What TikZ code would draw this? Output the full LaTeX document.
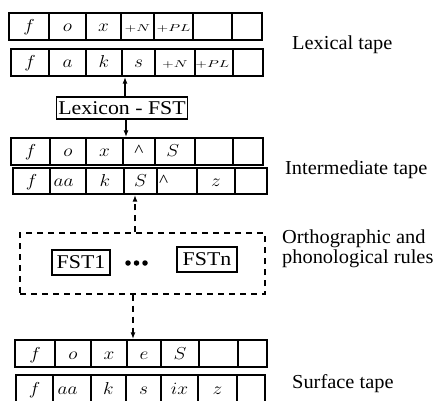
\documentclass[tikz,border=0pt]{standalone}
\usepackage{fontspec}
\setmainfont{Liberation Serif}
\usepackage{graphicx}
\usetikzlibrary{arrows.meta}
\newcommand\wide[1]{\scalebox{1.12}[1]{#1}}
\newcommand\lwide[1]{\scalebox{1.03}[1]{#1}}
\newcommand\tpsm[1]{\scalebox{1.35}[1]{\fontsize{10}{11}\selectfont$#1$}}
\newcommand\tapeRow[4]{%
  \foreach \xl/\xr/\ct [count=\i] in {#4} {
    \node[cell, minimum width={(\xr-\xl)*1pt}, minimum height={(#3-#2)*1pt}]
      (#1c\i) at ({(\xl+\xr)/2},{(#2+#3)/2}) {\wide{\ct}};
  }}
\begin{document}
\begin{tikzpicture}[x=1pt,y=-1pt,
  cell/.style={draw, line width=1.4pt, inner sep=0pt, text height=13pt, text depth=2pt,
    font=\fontsize{17.28}{19}\selectfont},
  boxed/.style={draw, line width=1.3pt, inner sep=1pt, font=\fontsize{19.5}{21}\selectfont},
  lbl/.style={inner sep=0pt, font=\fontsize{19.8}{18}\selectfont, anchor=base west, align=left},
  arr/.style={-{Latex[length=7pt,width=5pt]}, line width=1.4pt},
  darr/.style={-{Latex[length=7pt,width=5pt]}, line width=1.4pt, dash pattern=on 6pt off 5pt},
  dot/.style={circle, fill, inner sep=0pt, minimum size=5.5pt}]
\fill[white] (0,0) rectangle (442,401);
\useasboundingbox (0,0) rectangle (442,401);
\clip (0,0) rectangle (442,401);

% tapes
\tapeRow{t1}{13}{40}{9/49/{$f$}, 49/86/{$o$}, 86/121/{$x$}, 121/154/{\tpsm{+N}}, 154/193/{\tpsm{+PL}}, 193/232/{}, 232/262/{}}
\tapeRow{t2}{49}{76}{11/49/{$f$}, 49/86/{$a$}, 86/122/{$k$}, 122/155/{$s$}, 155/195/{\tpsm{+N}}, 195/233/{\tpsm{+PL}\hspace{3pt}}, 233/263/{}}
\tapeRow{t3}{138}{165}{11/50/{$f$}, 50/86/{$o$}, 86/123/{$x$}, 123/155/{\textasciicircum}, 155/195/{$S$\hspace{4pt}}, 195/233/{}, 233/263/{}}
\tapeRow{t4}{168}{194}{13/50/{$f$}, 50/86/{$aa$\hspace{8pt}}, 86/124/{$k$}, 124/157/{$S$}, 157/197/{\textasciicircum\hspace{24pt}}, 197/235/{$z$}, 235/267/{}}
\tapeRow{t5}{340}{367}{15/55/{$f$}, 55/91/{$o$}, 91/127/{$x$}, 127/161/{$e$}, 161/199/{$S$}, 199/238/{}, 238/267/{}}
\tapeRow{t6}{375}{403}{16/53/{$f$}, 53/91/{$aa$\hspace{8pt}}, 91/126/{$k$}, 126/161/{$s$}, 161/198/{$ix$}, 198/237/{$z$}, 237/265/{}}

% Lexicon FST
\node[boxed, minimum width=131pt, minimum height=22pt] (lex) at (122,108) {\wide{Lexicon - FST}};
\coordinate (lexN) at ([xshift=3pt]lex.north);
\coordinate (lexS) at ([xshift=4pt]lex.south);
\draw[arr] (lexN) -- (lexN |- t2c4.south);
\draw[arr] (lexS) -- (lexS |- t3c4.north);

% rules box
\node[draw, line width=1.4pt, dash pattern=on 6pt off 5pt, minimum width=245pt, minimum height=61pt, inner sep=0pt]
  (rules) at (142.5,263.5) {};
\node[boxed, minimum width=58pt, minimum height=25pt] (fst1) at (81,262.5) {\wide{FST1}};
\node[boxed, minimum width=60pt, minimum height=25pt] (fstn) at (207,259.5) {\wide{FSTn}};
\node[dot] (d1) at (128,263) {};
\node[dot] (d2) at (136.5,263) {};
\node[dot] (d3) at (145,263) {};
\coordinate (rN) at ([xshift=-7.5pt]rules.north);
\coordinate (rS) at ([xshift=-9.5pt]rules.south);
\draw[darr] (rN) -- (rN |- t4c4.south);
\draw[darr] (rS) -- (rS |- t5c4.north);

% labels
\node[lbl] (lexlbl) at (292,50) {\lwide{Lexical tape}};
\node[lbl] (intlbl) at (285,175) {\lwide{Intermediate tape}};
\node[lbl] (orthlbl) at (282,263) {\lwide{Orthographic and}\\\lwide{phonological rules}};
\node[lbl] (surflbl) at (292,388) {\lwide{Surface tape}};
\end{tikzpicture}
\end{document}
